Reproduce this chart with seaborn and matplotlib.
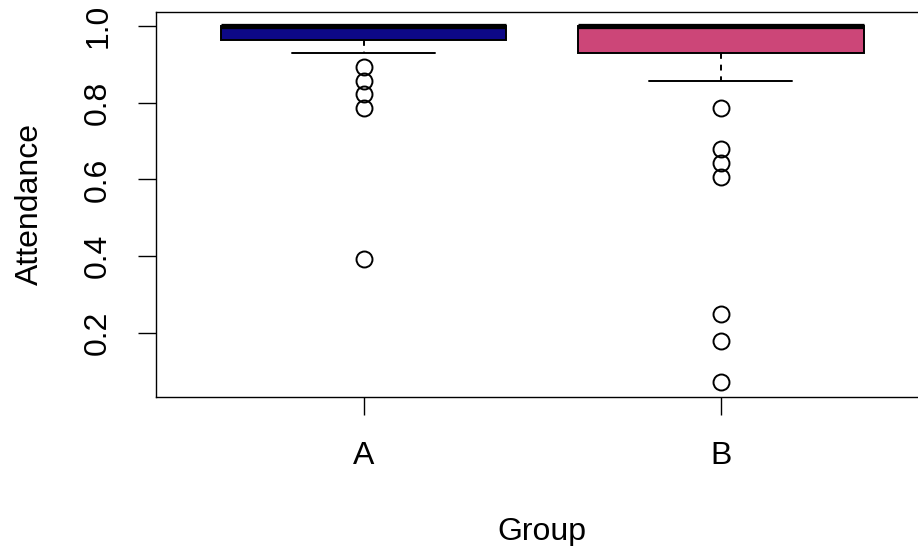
import numpy as np
import pandas as pd
import matplotlib
matplotlib.use("Agg")
import matplotlib.pyplot as plt
import seaborn as sns

# ---- data (attendance = sessions attended / 28) ----
groups = ["A", "B"]
total_sessions = 28
a_sessions = [11, 22, 23, 24, 25, 26, 27, 28]
a_counts = [1, 1, 1, 1, 1, 1, 8, 26]
b_sessions = [2, 5, 7, 17, 18, 19, 22, 24, 25, 26, 27, 28]
b_counts = [1, 1, 1, 1, 1, 1, 1, 1, 1, 4, 5, 22]
group_colors = ["#0D0887", "#CC4678"]
y_ticks = [0.2, 0.4, 0.6, 0.8, 1.0]
y_tick_labels = ["0.2", "0.4", "0.6", "0.8", "1.0"]

a_vals = np.repeat(np.array(a_sessions) / total_sessions, a_counts)
b_vals = np.repeat(np.array(b_sessions) / total_sessions, b_counts)
df = pd.DataFrame({
    "Group": ["A"] * len(a_vals) + ["B"] * len(b_vals),
    "Attendance": np.concatenate([a_vals, b_vals]),
})

sns.set_style("white")
plt.rcParams["font.family"] = ["Liberation Sans", "DejaVu Sans"]

FS = 23
W, H = 918, 546
fig = plt.figure(figsize=(W / 100, H / 100), dpi=100)
left_px, right_px, top_px, bottom_px = 156.3, 928.0, 11.7, 396.5
ax = fig.add_axes([left_px / W, 1 - bottom_px / H,
                   (right_px - left_px) / W, (bottom_px - top_px) / H])

sns.boxplot(
    data=df, x="Group", y="Attendance", hue="Group", order=groups,
    hue_order=groups, palette=group_colors, saturation=1, width=0.8,
    linecolor="black", linewidth=1.4, whis=1.5, legend=False, ax=ax,
    flierprops=dict(marker="o", markerfacecolor="none",
                    markeredgecolor="black", markersize=11.5,
                    markeredgewidth=1.4),
    medianprops=dict(color="black", linewidth=3.8, solid_capstyle="butt"),
    whiskerprops=dict(linestyle=(0, (3, 3))),
    capwidths=0.4,
)

lo = df["Attendance"].min()
hi = df["Attendance"].max()
pad = 0.04 * (hi - lo)
ax.set_ylim(lo - pad, hi + pad)
ax.set_xlim(-0.58, 1.58)

ax.set_yticks(y_ticks)
ax.set_yticklabels(y_tick_labels, rotation=90, va="center")
ax.tick_params(axis="both", which="major", direction="out", length=13,
               width=1.0, color="black", labelsize=FS, labelcolor="black",
               left=True, bottom=True)
ax.tick_params(axis="x", pad=19)
ax.tick_params(axis="y", pad=18)

for s in ax.spines.values():
    s.set_color("black")
    s.set_linewidth(1.0)
    s.set_visible(True)

ax.set_xlabel("Group", fontsize=FS, color="black")
ax.set_ylabel("Attendance", fontsize=FS, color="black")
ax.xaxis.set_label_coords(0.5, (bottom_px - 517) / (bottom_px - top_px))
ax.yaxis.set_label_coords((45 - left_px) / (right_px - left_px), 0.5)

fig.savefig("out.png", dpi=100)
